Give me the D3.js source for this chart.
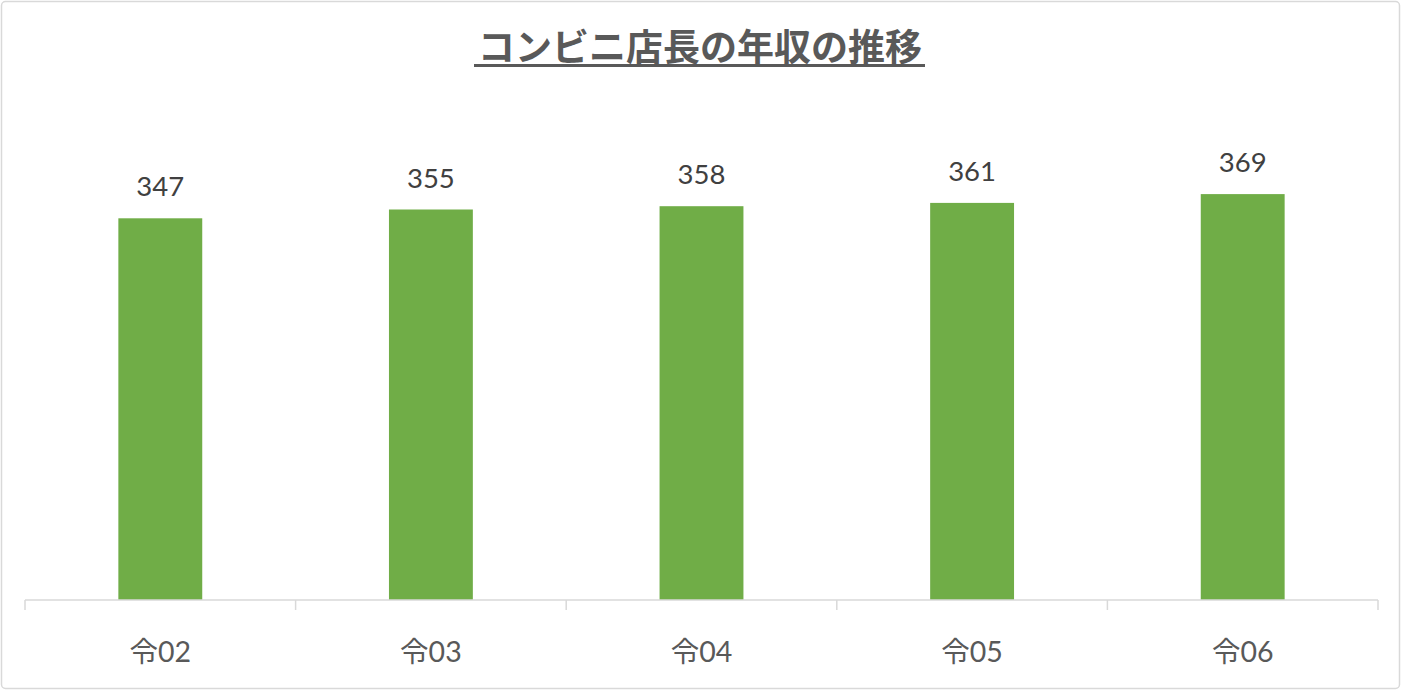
<!DOCTYPE html>
<html>
<head>
<meta charset="utf-8">
<script src="https://cdn.jsdelivr.net/npm/d3@7"></script>
<style>
  body { margin: 0; background: #fff; }
  svg { display: block; }
</style>
</head>
<body>
<svg class="chart-svg" width="1402" height="691"></svg>
<script>
const width = 1402;
const height = 691;

const categories = ["令02", "令03", "令04", "令05", "令06"];
const salaries = [347, 355, 358, 361, 369];
const chartTitle = "コンビニ店長の年収の推移";

const svg = d3.select(".chart-svg");
const font = "Lato, 'Noto Sans CJK JP', sans-serif";

// outer frame
svg.append("rect")
  .attr("x", 1.5).attr("y", 1.5)
  .attr("width", width - 4).attr("height", height - 4)
  .attr("rx", 4)
  .attr("fill", "#fff")
  .attr("stroke", "#d9d9d9")
  .attr("stroke-width", 1.5);

const margin = { left: 25, right: 24, bottom: 91 };
const x = d3.scaleBand()
  .domain(categories)
  .range([margin.left, width - margin.right])
  .paddingInner(0.69)
  .paddingOuter(0.345);

const y = d3.scaleLinear()
  .domain([0, 400])
  .range([height - margin.bottom, 160]);

const base = y(0);

// bars
svg.selectAll(".bar")
  .data(salaries)
  .enter()
  .append("rect")
  .attr("class", "bar")
  .attr("x", (d, i) => x(categories[i]))
  .attr("y", d => y(d))
  .attr("width", x.bandwidth())
  .attr("height", d => base - y(d))
  .attr("fill", "#70ad47");

// value labels
svg.selectAll(".val")
  .data(salaries)
  .enter()
  .append("text")
  .attr("class", "val")
  .attr("x", (d, i) => x(categories[i]) + x.bandwidth() / 2)
  .attr("y", d => y(d) - 22)
  .attr("text-anchor", "middle")
  .attr("font-family", font)
  .attr("font-size", 27.5)
  .attr("fill", "#404040")
  .text(d => d);

// category axis
const x0 = margin.left;
const x1 = width - margin.right;
svg.append("line")
  .attr("x1", x0).attr("x2", x1)
  .attr("y1", base).attr("y2", base)
  .attr("stroke", "#d9d9d9").attr("stroke-width", 1.5);

const tickPos = d3.range(categories.length + 1).map(i => x0 + (x1 - x0) * i / categories.length);
svg.selectAll(".tick")
  .data(tickPos)
  .enter()
  .append("line")
  .attr("x1", d => d).attr("x2", d => d)
  .attr("y1", base).attr("y2", base + 10)
  .attr("stroke", "#d9d9d9").attr("stroke-width", 1.5);

svg.selectAll(".cat")
  .data(categories)
  .enter()
  .append("text")
  .attr("class", "cat")
  .attr("x", d => x(d) + x.bandwidth() / 2)
  .attr("y", base + 62)
  .attr("text-anchor", "middle")
  .attr("font-family", font)
  .attr("font-size", 28.5)
  .attr("fill", "#595959")
  .text(d => d);

// title
const title = svg.append("text")
  .attr("x", 700)
  .attr("y", 61)
  .attr("text-anchor", "middle")
  .attr("font-family", "'Noto Sans CJK JP', sans-serif")
  .attr("font-weight", "bold")
  .attr("font-size", 37)
  .attr("fill", "#595959")
  .text(chartTitle);

const tb = title.node().getBBox();
svg.append("line")
  .attr("x1", tb.x - 4).attr("x2", tb.x + tb.width + 3)
  .attr("y1", 65.5).attr("y2", 65.5)
  .attr("stroke", "#595959").attr("stroke-width", 3);
</script>
</body>
</html>
